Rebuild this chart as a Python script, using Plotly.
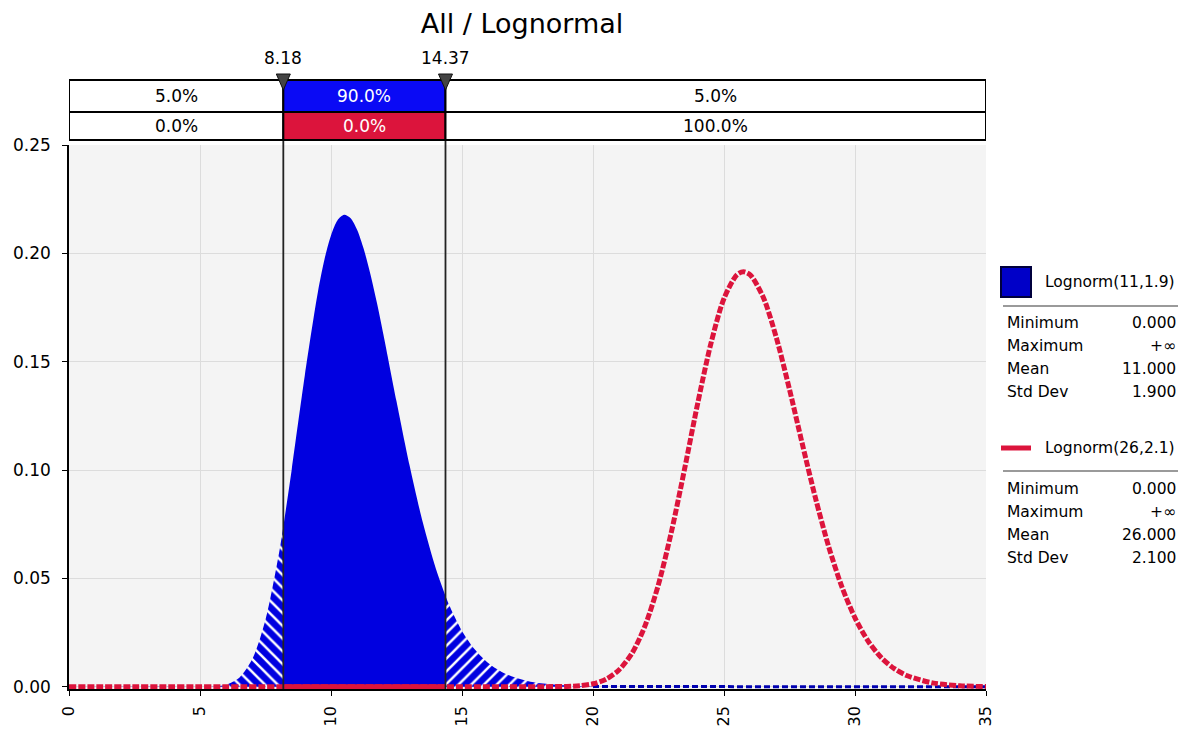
import plotly.graph_objects as go

# ---------------- data ----------------
title_text = "All / Lognormal"
delimiters = [8.18, 14.37]
band_top = ["5.0%", "90.0%", "5.0%"]
band_bottom = ["0.0%", "0.0%", "100.0%"]

blue_name = "Lognorm(11,1.9)"
blue_x = [0, 5, 5.5, 6, 6.5, 7, 7.5, 8, 8.18, 8.5, 9, 9.5, 9.75, 10, 10.25, 10.5, 10.75,
          11, 11.25, 11.5, 11.75, 12, 12.5, 13, 13.5, 14, 14.37, 14.5, 15, 15.5, 16, 16.5,
          17, 17.5, 18, 19, 20, 25, 30, 35]
blue_y = [0, 0.00002, 0.00017, 0.0010, 0.0042, 0.0129, 0.0309, 0.0606, 0.0739, 0.1002,
          0.1436, 0.1822, 0.1972, 0.2083, 0.2153, 0.2178, 0.2162, 0.2108, 0.2020, 0.1906,
          0.1773, 0.1626, 0.1318, 0.1021, 0.0760, 0.0546, 0.0419, 0.0380, 0.0258, 0.0171,
          0.0110, 0.0070, 0.0044, 0.0027, 0.0016, 0.0006, 0.0002, 0, 0, 0]

red_name = "Lognorm(26,2.1)"
red_x = [0, 8.18, 14.37, 19, 19.5, 20, 20.5, 21, 21.5, 22, 22.5, 23, 23.5, 24, 24.5, 25,
         25.5, 25.75, 26, 26.5, 27, 27.5, 28, 28.5, 29, 29.5, 30, 30.5, 31, 31.5, 32, 33,
         34, 35]
red_y = [0, 0, 0, 0.0002, 0.0005, 0.0014, 0.0035, 0.0079, 0.0157, 0.0286, 0.0473, 0.0719,
         0.1008, 0.1310, 0.1584, 0.1792, 0.1902, 0.1915, 0.1901, 0.1797, 0.1610, 0.1372,
         0.1115, 0.0867, 0.0645, 0.0461, 0.0318, 0.0211, 0.0135, 0.0084, 0.0051, 0.0017,
         0.0005, 0.0001]

stat_names = ["Minimum", "Maximum", "Mean", "Std Dev"]
blue_stats = ["0.000", "+∞", "11.000", "1.900"]
red_stats = ["0.000", "+∞", "26.000", "2.100"]

x_range = [0, 35]
y_range = [-0.001, 0.25]
x_tick_vals = [0, 5, 10, 15, 20, 25, 30, 35]
y_tick_vals = [0, 0.05, 0.10, 0.15, 0.20, 0.25]

# ---------------- styling / layout geometry ----------------
FONT = "DejaVu Sans"
OFF = 8                      # page body margin that the browser adds
PAGE_W, PAGE_H = 1186, 729
W, H = PAGE_W - OFF, PAGE_H - OFF
PL, PR, PT, PB = 69, 986, 145, 689   # plot area in page pixels
BLUE = "#0000E0"
BLUE_CELL = "#0A0AF5"
RED = "#DC143C"
BG = "#F4F4F4"
GRID = "#DCDCDC"


def xp(p):
    return (p - PL) / (PR - PL)


def yp(p):
    return (PB - p) / (PB - PT)


lo, hi = delimiters


def seg(xs, ys, a, b):
    pts = [(x, y) for x, y in zip(xs, ys) if a <= x <= b]
    return [p[0] for p in pts], [p[1] for p in pts]


fig = go.Figure()

lx, ly = seg(blue_x, blue_y, x_range[0], lo)
fig.add_trace(go.Scatter(x=lx, y=ly, mode="lines",
                         line=dict(width=0, shape="spline", smoothing=0.8, color=BLUE),
                         fill="tozeroy", fillcolor=BLUE,
                         fillpattern=dict(shape="\\", bgcolor=BLUE, fgcolor="white", size=9,
                                          solidity=0.28, fillmode="replace"),
                         showlegend=False, hoverinfo="skip"))
mx, my = seg(blue_x, blue_y, lo, hi)
fig.add_trace(go.Scatter(x=mx, y=my, mode="lines",
                         line=dict(width=0, shape="spline", smoothing=0.8, color=BLUE),
                         fill="tozeroy", fillcolor=BLUE, showlegend=False, hoverinfo="skip"))
rx, ry = seg(blue_x, blue_y, hi, 20)
fig.add_trace(go.Scatter(x=rx, y=ry, mode="lines",
                         line=dict(width=0, shape="spline", smoothing=0.8, color=BLUE),
                         fill="tozeroy", fillcolor=BLUE,
                         fillpattern=dict(shape="/", bgcolor=BLUE, fgcolor="white", size=9,
                                          solidity=0.28, fillmode="replace"),
                         showlegend=False, hoverinfo="skip"))
tx, ty = seg(blue_x, blue_y, 20, x_range[1])
fig.add_trace(go.Scatter(x=tx, y=ty, mode="lines",
                         line=dict(width=3, color="#0000B0", dash="6px,3px"),
                         showlegend=False, hoverinfo="skip"))
fig.add_trace(go.Scatter(x=red_x, y=red_y, mode="lines",
                         line=dict(width=5, color=RED, shape="spline", smoothing=0.8,
                                   dash="7px,2px"),
                         showlegend=False, hoverinfo="skip"))
sx, sy = seg(red_x, red_y, lo, hi)
fig.add_trace(go.Scatter(x=sx, y=sy, mode="lines", line=dict(width=5, color=RED),
                         showlegend=False, hoverinfo="skip"))

shapes = []
annotations = []

for d in delimiters:
    shapes.append(dict(type="line", xref="x", yref="paper", x0=d, x1=d, y0=0, y1=yp(80),
                       line=dict(color="#222222", width=1.8), layer="above"))

edges = [x_range[0], lo, hi, x_range[1]]
row_defs = [(80, 112, band_top, ["white", BLUE_CELL, "white"]),
            (112, 140, band_bottom, ["white", RED, "white"])]
for top, bot, labels, fills in row_defs:
    for i in range(3):
        shapes.append(dict(type="rect", xref="x", yref="paper", x0=edges[i], x1=edges[i + 1],
                           y0=yp(bot), y1=yp(top), fillcolor=fills[i],
                           line=dict(color="black", width=2), layer="above"))
        annotations.append(dict(xref="x", yref="paper", x=(edges[i] + edges[i + 1]) / 2,
                                y=yp((top + bot) / 2), text=labels[i], showarrow=False,
                                xanchor="center", yanchor="middle",
                                font=dict(family=FONT, size=17,
                                          color="white" if fills[i] != "white" else "black")))

half = 7 / ((PR - PL) / (x_range[1] - x_range[0]))
for d in delimiters:
    shapes.append(dict(type="path", xref="x", yref="paper",
                       path=f"M {d - half},{yp(74)} L {d + half},{yp(74)} L {d},{yp(90)} Z",
                       fillcolor="#444444", line=dict(color="#111111", width=1), layer="above"))
    annotations.append(dict(xref="x", yref="paper", x=d, y=yp(58), text=f"{d:.2f}",
                            showarrow=False, xanchor="center", yanchor="middle",
                            font=dict(family=FONT, size=17, color="black")))

shapes.append(dict(type="rect", xref="paper", yref="paper", x0=xp(1001), x1=xp(1031),
                   y0=yp(297), y1=yp(267), fillcolor="#0000C8",
                   line=dict(color="#00003C", width=2)))
shapes.append(dict(type="line", xref="paper", yref="paper", x0=xp(1001), x1=xp(1031),
                   y0=yp(448), y1=yp(448), line=dict(color=RED, width=5)))
for ysep in (306, 471):
    shapes.append(dict(type="line", xref="paper", yref="paper", x0=xp(1003), x1=xp(1180),
                       y0=yp(ysep), y1=yp(ysep), line=dict(color="#9A9A9A", width=2)))

for name, ytitle in ((blue_name, 282), (red_name, 448)):
    annotations.append(dict(xref="paper", yref="paper", x=xp(1043), y=yp(ytitle), text=name,
                            showarrow=False, xanchor="left", yanchor="middle",
                            font=dict(family=FONT, size=15.5, color="black")))

for stats, y0 in ((blue_stats, 323), (red_stats, 489)):
    for k, (nm, val) in enumerate(zip(stat_names, stats)):
        yy = yp(y0 + 23 * k)
        annotations.append(dict(xref="paper", yref="paper", x=xp(1005), y=yy, text=nm,
                                showarrow=False, xanchor="left", yanchor="middle",
                                font=dict(family=FONT, size=15.5, color="black")))
        annotations.append(dict(xref="paper", yref="paper", x=xp(1178), y=yy, text=val,
                                showarrow=False, xanchor="right", yanchor="middle",
                                font=dict(family=FONT, size=15.5, color="black")))

fig.update_layout(
    template="none",
    width=W, height=H, autosize=False,
    margin=dict(l=PL - OFF, r=PAGE_W - PR, t=PT - OFF, b=PAGE_H - PB, pad=0, autoexpand=False),
    paper_bgcolor="white", plot_bgcolor=BG,
    font=dict(family=FONT, color="black"),
    title=dict(text=title_text, x=(522 - OFF) / W, xref="container", xanchor="center",
               y=1 - (24 - OFF) / H, yref="container", yanchor="middle",
               font=dict(family=FONT, size=27, color="black")),
    shapes=shapes, annotations=annotations,
    showlegend=False, hovermode=False,
    xaxis=dict(range=x_range, tickvals=x_tick_vals, tickangle=-90, automargin=False,
               showgrid=True, gridcolor=GRID, gridwidth=1, zeroline=False,
               showline=True, linecolor="black", linewidth=1.5,
               ticks="outside", ticklen=5, tickcolor="black", ticklabelstandoff=4,
               tickfont=dict(family=FONT, size=16, color="black")),
    yaxis=dict(range=y_range, tickvals=y_tick_vals, tickformat=".2f", automargin=False,
               showgrid=True, gridcolor=GRID, gridwidth=1, zeroline=False,
               showline=True, linecolor="black", linewidth=1.5,
               ticks="outside", ticklen=5, tickcolor="black", ticklabelstandoff=8,
               tickfont=dict(family=FONT, size=17, color="black")),
)

fig.write_html("out.html")
